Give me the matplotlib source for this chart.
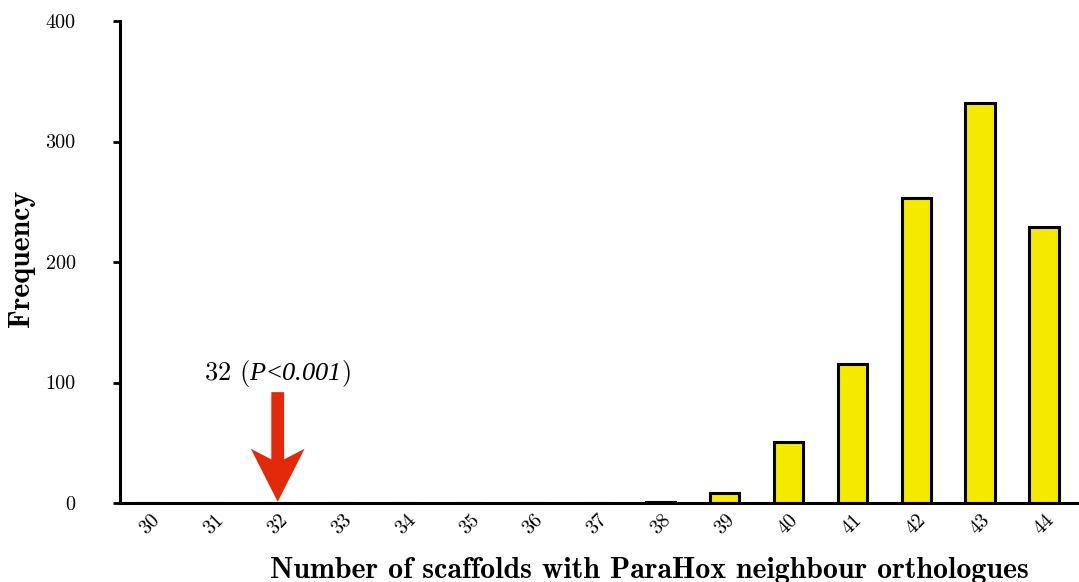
import matplotlib
matplotlib.use("Agg")
import matplotlib.pyplot as plt
import numpy as np

plt.rcParams['mathtext.fontset'] = 'custom'
plt.rcParams['mathtext.rm'] = 'Liberation Serif'
plt.rcParams['mathtext.it'] = 'Liberation Serif:italic'
plt.rcParams['mathtext.sf'] = 'Liberation Serif:italic'
plt.rcParams['mathtext.bf'] = 'cmb10'
plt.rcParams['axes.formatter.use_mathtext'] = True

scaffolds = list(range(30, 45))
freq = [0, 0, 0, 0, 0, 0, 0, 0, 1, 8, 51, 115, 253, 332, 229]
observed = 32

fig = plt.figure(figsize=(10.79, 5.82), dpi=100)
ax = fig.add_axes([120/1079, 1-503/582, 959/1079, 482/582])

ax.bar(scaffolds, freq, width=0.46, color='#f5e900', edgecolor='black', linewidth=2.2)

ax.set_xlim(29.53, 44.55)
ax.set_ylim(0, 400)
ax.set_yticks([0, 100, 200, 300, 400])
ax.set_xticks(scaffolds)
ax.set_xticklabels([str(s) for s in scaffolds], rotation=45, fontfamily='cmr10', fontsize=14.5)
ax.set_yticklabels(['0', '100', '200', '300', '400'], fontfamily='cmr10', fontsize=14.5)
ax.tick_params(axis='x', length=0, pad=6)
ax.tick_params(axis='y', direction='out', length=5, width=2, pad=27)

for side in ['top', 'right']:
    ax.spines[side].set_visible(False)
ax.spines['left'].set_linewidth(2.2)
ax.spines['bottom'].set_linewidth(2.2)

fig.text(649/1079, 1-570/582, 'Number of scaffolds with ParaHox neighbour orthologues',
         fontfamily='cmb10', fontsize=21.5, ha='center', va='center')
fig.text(22/1079, 1-258/582, 'Frequency', fontfamily='cmb10', fontsize=21.5,
         rotation=90, ha='center', va='center')

# red arrow pointing at the observed value
ax.arrow(observed, 92, 0, -91, width=0.2, head_width=0.84, head_length=44,
         overhang=0.2, length_includes_head=True, color='#e22a0a', lw=0)
ax.text(observed, 95, r'32 ($P\!<\!\mathsf{0.001}$)', ha='center', va='bottom',
        fontfamily='cmr10', fontsize=19)

fig.savefig('out.png', dpi=100)
